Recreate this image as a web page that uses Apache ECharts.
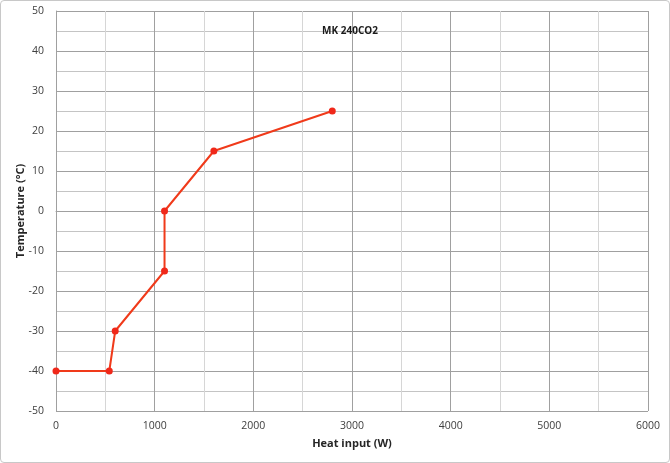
<!DOCTYPE html>
<html><head><meta charset="utf-8">
<script src="https://cdn.jsdelivr.net/npm/echarts@6/dist/echarts.min.js"></script>
<style>
html,body{margin:0;padding:0;background:#fff;}
#wrap{position:absolute;left:0;top:0;width:668px;height:461px;border:1px solid #c8c8c8;border-radius:4px;}
#c{width:670px;height:463px;position:absolute;left:-1px;top:-1px;}
</style></head>
<body><div id="wrap"><div id="c"></div></div>
<script>
const heatInput = [0, 540, 600, 1100, 1100, 1600, 2800];
const temperature = [-40, -40, -30, -15, 0, 15, 25];
const title = 'MK 240CO2';
const xName = 'Heat input (W)';
const yName = 'Temperature (°C)';

const chart = echarts.init(document.getElementById('c'));
const font = 'Open Sans, Liberation Sans, sans-serif';
chart.setOption({
  animation: false,
  title: {text: title, left: 345, top: 21, textAlign: 'center',
    textStyle: {fontSize: 10, fontWeight: 'bold', color: '#1a1a1a', fontFamily: font}},
  grid: {left: 56, right: 22, top: 11, bottom: 52},
  xAxis: {
    type: 'value', min: 0, max: 6000, interval: 1000,
    name: xName, nameLocation: 'middle', nameGap: 27,
    nameTextStyle: {fontSize: 11, fontWeight: 'bold', color: '#262626', fontFamily: font},
    axisLine: {show: true, lineStyle: {color: '#a0a0a0'}},
    axisTick: {show: false},
    axisLabel: {fontSize: 10.5, color: '#404040', fontFamily: font, margin: 10,
      formatter: v => String(v)},
    splitLine: {show: true, lineStyle: {color: '#a0a0a0', width: 1}},
    minorTick: {show: false, splitNumber: 2},
    minorSplitLine: {show: true, lineStyle: {color: '#d6d6d6', width: 1}}
  },
  yAxis: {
    type: 'value', min: -50, max: 50, interval: 10,
    name: yName, nameLocation: 'middle', nameGap: 30, nameMoveOverlap: false,
    nameTextStyle: {fontSize: 11, fontWeight: 'bold', color: '#262626', fontFamily: font},
    axisLine: {show: true, lineStyle: {color: '#a0a0a0'}},
    axisTick: {show: false},
    axisLabel: {fontSize: 10.5, color: '#404040', fontFamily: font, margin: 12},
    splitLine: {show: true, lineStyle: {color: '#a0a0a0', width: 1}},
    minorTick: {show: false, splitNumber: 2},
    minorSplitLine: {show: true, lineStyle: {color: '#c4c4c4', width: 1}}
  },
  series: [{
    type: 'line',
    data: heatInput.map((x, i) => [x, temperature[i]]),
    symbol: 'circle', symbolSize: 7,
    lineStyle: {color: '#f03a1a', width: 2},
    itemStyle: {color: '#f0281a'}
  }]
});
</script></body></html>
